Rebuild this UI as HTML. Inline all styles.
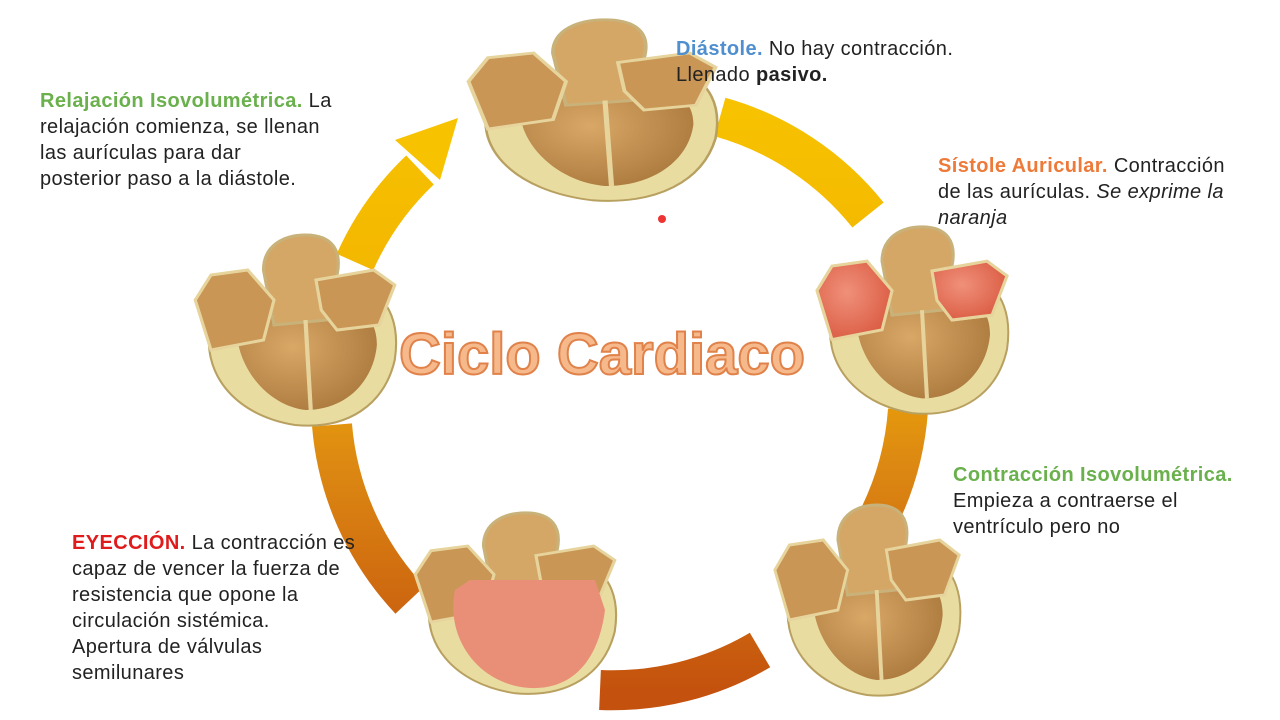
<!DOCTYPE html>
<html><head><meta charset="utf-8"><style>
body{margin:0;width:1280px;height:720px;background:#fff;position:relative;overflow:hidden;font-family:"Liberation Sans",sans-serif;}
.t{position:absolute;font-size:20px;letter-spacing:0.4px;line-height:26px;color:#222;white-space:nowrap}
.g{color:#6ab04c;font-weight:bold}.o{color:#ee7a3a;font-weight:bold}.b{color:#4f8fcf;font-weight:bold}.r{color:#e01b1b;font-weight:bold}
svg{position:absolute;left:0;top:0}
</style></head><body>
<svg width="1280" height="720" viewBox="0 0 1280 720">
<defs>
<linearGradient id="ring" gradientUnits="userSpaceOnUse" x1="0" y1="110" x2="0" y2="690">
<stop offset="0" stop-color="#f7c200"/><stop offset="0.35" stop-color="#f2b400"/><stop offset="0.6" stop-color="#dd8a12"/><stop offset="1" stop-color="#c4520e"/></linearGradient>
<radialGradient id="ch" cx="0.4" cy="0.4" r="0.7"><stop offset="0" stop-color="#d9a867"/><stop offset="1" stop-color="#a9773b"/></radialGradient>
<radialGradient id="chr" cx="0.4" cy="0.4" r="0.7"><stop offset="0" stop-color="#f0907a"/><stop offset="1" stop-color="#d9583f"/></radialGradient>
<g id="heart">
<path d="M20,95 C10,140 40,185 100,195 C150,200 185,175 195,130 C200,95 190,70 170,60 L40,60 Z" fill="#e9dca0" stroke="#b8a060" stroke-width="2"/>
<path d="M45,90 C40,130 70,175 110,180 C150,180 175,150 178,115 C178,90 165,80 150,80 L60,75 Z" fill="url(#ch)"/>
<path d="M70,40 C70,15 90,5 110,5 C135,5 145,20 140,45 L130,90 L80,95 Z" fill="#d4a766" stroke="#c9b27a" stroke-width="3"/>
<path d="M5,70 L20,45 L55,40 L80,70 L70,110 L20,120 Z" fill="#c99656" stroke="#e6d49c" stroke-width="3"/>
<path d="M120,50 L175,40 L195,55 L180,95 L140,100 L125,80 Z" fill="#c99656" stroke="#e6d49c" stroke-width="3"/>
<line x1="110" y1="90" x2="115" y2="180" stroke="#e6d49c" stroke-width="4"/>
</g>
</defs>
<g fill="none" stroke="url(#ring)" stroke-width="40">
<path d="M720,117 A290,290 0 0 1 868,215"/>
<path d="M908,410 A290,290 0 0 1 880,515"/>
<path d="M760,650 A290,290 0 0 1 600,690"/>
<path d="M410,600 A290,290 0 0 1 332,425"/>
<path d="M355,262 A290,290 0 0 1 420,170"/>
</g>
<polygon points="395,140 458,118 440,180" fill="#f7c200"/>
<use href="#heart" transform="translate(462,15) scale(1.3,0.95)"/>
<use href="#heart" transform="translate(190,230) scale(1.05,1)"/>
<use href="#heart" transform="translate(812,222) scale(1.0,0.98)"/>
<g transform="translate(812,222) scale(1.0,0.98)"><path d="M5,70 L20,45 L55,40 L80,70 L70,110 L20,120 Z" fill="url(#chr)" stroke="#e6d49c" stroke-width="3"/><path d="M120,50 L175,40 L195,55 L180,95 L140,100 L125,80 Z" fill="url(#chr)" stroke="#e6d49c" stroke-width="3"/></g>
<use href="#heart" transform="translate(770,500) scale(0.97,1)"/>
<use href="#heart" transform="translate(410,508) scale(1.05,0.95)"/>
<path d="M455,590 C445,640 480,685 530,688 C580,690 600,650 605,610 L595,580 L470,580 Z" fill="#e98f78"/>
<text x="602" y="374" text-anchor="middle" font-family="Liberation Sans,sans-serif" font-size="58" font-weight="bold" fill="#f6b98c" stroke="#e0824a" stroke-width="2">Ciclo Cardiaco</text>
<circle cx="662" cy="219" r="4" fill="#e33"/>
</svg>
<div class="t" style="left:40px;top:88px"><span class="g">Relajación Isovolumétrica.</span> La<br>relajación comienza, se llenan<br>las aurículas para dar<br>posterior paso a la diástole.</div>
<div class="t" style="left:676px;top:36px"><span class="b">Diástole.</span> No hay contracción.<br>Llenado <b>pasivo.</b></div>
<div class="t" style="left:938px;top:153px"><span class="o">Sístole Auricular.</span> Contracción<br>de las aurículas. <i>Se exprime la<br>naranja</i></div>
<div class="t" style="left:953px;top:462px"><span class="g">Contracción Isovolumétrica.</span><br>Empieza a contraerse el<br>ventrículo pero no</div>
<div class="t" style="left:72px;top:530px"><span class="r">EYECCIÓN.</span> La contracción es<br>capaz de vencer la fuerza de<br>resistencia que opone la<br>circulación sistémica.<br>Apertura de válvulas<br>semilunares</div>
</body></html>
